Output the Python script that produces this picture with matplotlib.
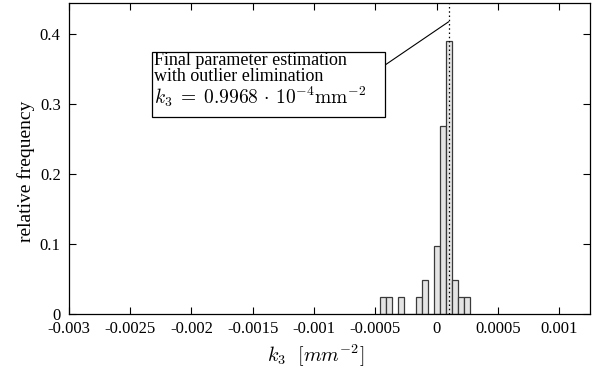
# histogram of k3 estimates, final parameter estimation with outlier elimination

import numpy as np
import matplotlib
matplotlib.use("Agg")
import matplotlib.pyplot as plt
from matplotlib.patches import Rectangle

plt.rcParams['font.family'] = ['Liberation Serif', 'DejaVu Serif']
plt.rcParams['mathtext.fontset'] = 'cm'
plt.rcParams['axes.unicode_minus'] = False

# histogram data
bin_start = -0.00046        # left edge of first bin
bin_width = 0.0000488
counts = [1, 1, 0, 1, 0, 0, 1, 2, 0, 4, 11, 16, 2, 1, 1]
n_samples = 41
k3_final = 0.9968e-4

x_ticks = [-0.003, -0.0025, -0.002, -0.0015, -0.001, -0.0005, 0, 0.0005, 0.001]
x_tick_labels = ['-0.003', '-0.0025', '-0.002', '-0.0015', '-0.001', '-0.0005',
                 '0', '0.0005', '0.001']
y_ticks = [0, 0.1, 0.2, 0.3, 0.4]
y_tick_labels = ['0', '0.1', '0.2', '0.3', '0.4']

freq = np.array(counts) / n_samples
edges = bin_start + bin_width * np.arange(len(counts))

fig = plt.figure(figsize=(6.04, 3.73), dpi=100)
ax = fig.add_axes([0.1142, 0.1574, 0.8621, 0.8354])

ax.bar(edges, freq, width=bin_width, align='edge', color='#e4e4e4',
       edgecolor='#3a3a3a', linewidth=0.9, zorder=2)
ax.axvline(k3_final, color='black', linestyle=(0, (1.2, 2.2)), linewidth=0.9, zorder=3)

ax.set_xlim(-0.003, 0.00125)
ax.set_ylim(0, 0.4445)
ax.set_xticks(x_ticks)
ax.set_xticklabels(x_tick_labels)
ax.set_yticks(y_ticks)
ax.set_yticklabels(y_tick_labels)
ax.tick_params(axis='both', direction='in', top=True, right=True,
               length=4.8, width=0.8, labelsize=12)
ax.tick_params(axis='x', pad=5)
ax.tick_params(axis='y', pad=6)
for s in ax.spines.values():
    s.set_linewidth(0.9)

ax.set_xlabel(r'$k_3\ \ [mm^{-2}]$', fontsize=14.5)
ax.xaxis.set_label_coords(0.4735, -0.09)
ax.set_ylabel('relative frequency', fontsize=14)
ax.yaxis.set_label_coords(-0.066, 0.46)

# annotation box and leader line
ax.annotate('', xy=(k3_final, 0.4174), xytext=(-0.00042, 0.3556),
            arrowprops=dict(arrowstyle='-', color='black', lw=0.8,
                            shrinkA=0, shrinkB=0))
ax.add_patch(Rectangle((-0.002319, 0.2819), 0.001899, 0.0927, facecolor='white',
                       edgecolor='black', linewidth=0.9, zorder=4))
ax.text(-0.002305, 0.3735,
        'Final parameter estimation\nwith outlier elimination',
        fontsize=13, va='top', ha='left', linespacing=0.88, zorder=5)
ax.text(-0.002305, 0.3005,
        r'$k_3\;=\;0.9968\,\cdot\,10^{-4}\mathrm{mm}^{-2}$',
        fontsize=14, va='baseline', ha='left', zorder=5)

plt.savefig('out.png', dpi=100)
